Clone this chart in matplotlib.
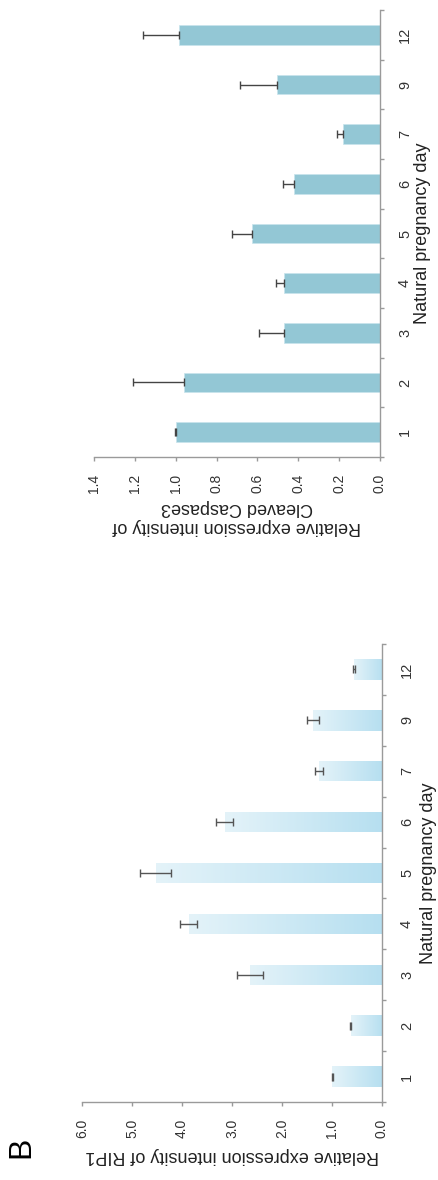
import matplotlib
matplotlib.use("Agg")
import matplotlib.pyplot as plt
import numpy as np

plt.rcParams["font.family"] = ["Liberation Sans", "DejaVu Sans"]

days = ["1", "2", "3", "4", "5", "6", "7", "9", "12"]

# Cleaved Caspase3 (panel drawn on top)
casp_mean = [1.00, 0.96, 0.47, 0.47, 0.625, 0.42, 0.18, 0.505, 0.985]
casp_err = [0.005, 0.25, 0.12, 0.037, 0.10, 0.057, 0.031, 0.18, 0.176]
casp_ticks = [0.0, 0.2, 0.4, 0.6, 0.8, 1.0, 1.2, 1.4]

# RIP1 (panel B, drawn below)
rip1_mean = [1.00, 0.63, 2.65, 3.87, 4.53, 3.15, 1.26, 1.39, 0.57]
rip1_err = [0.01, 0.015, 0.26, 0.17, 0.31, 0.17, 0.08, 0.12, 0.02]
rip1_ticks = [0.0, 1.0, 2.0, 3.0, 4.0, 5.0, 6.0]

W, H = 438, 1180
fig = plt.figure(figsize=(W / 100, H / 100), dpi=100)


def px_axes(left, right, top, bottom):
    return fig.add_axes([left / W, 1 - bottom / H, (right - left) / W, (bottom - top) / H])


def style_axes(ax, ticks, vmax, label, label_y, label_x):
    pos = np.arange(1, len(days) + 1)
    ax.set_xlim(vmax, 0)
    ax.set_ylim(0.5, len(days) + 0.5)
    for s in ["top", "left"]:
        ax.spines[s].set_visible(False)
    for s in ["bottom", "right"]:
        ax.spines[s].set_color("#9a9a9a")
        ax.spines[s].set_linewidth(1.0)
    ax.set_xticks(ticks)
    ax.set_xticklabels([f"{t:.1f}" for t in ticks], rotation=90, fontsize=10, color="#333333")
    ax.tick_params(axis="x", direction="out", length=3.2, width=1.0, color="#9a9a9a", pad=9)
    ax.yaxis.tick_right()
    ax.set_yticks(pos)
    ax.set_yticklabels(days, rotation=90, fontsize=10.5, color="#333333", va="center")
    ax.set_yticks(np.arange(0.5, len(days) + 1), minor=True)
    ax.tick_params(axis="y", which="major", length=0, pad=13)
    ax.tick_params(axis="y", which="minor", direction="out", length=3.2, width=1.0, color="#9a9a9a")
    ax.set_xlabel(label, fontsize=13, rotation=180, color="#222222", linespacing=1.1)
    ax.xaxis.set_label_coords(0.5, label_y)
    ax.xaxis.label.set_va("center")
    ax.set_ylabel("Natural pregnancy day", fontsize=13, rotation=90, color="#222222")
    ax.yaxis.set_label_position("right")
    ax.yaxis.set_label_coords(label_x, 0.5)
    ax.yaxis.label.set_va("center")


# top panel: solid bars, one-sided error bars
ax1 = px_axes(94, 380, 10, 457)
pos = np.arange(1, len(days) + 1)
ax1.barh(pos, casp_mean, height=0.4, color="#93c7d5", edgecolor="#c8e4ec", linewidth=0.5)
ax1.errorbar(casp_mean, pos, xerr=[np.zeros(len(days)), casp_err], fmt="none",
             ecolor="#444444", elinewidth=1.0, capsize=3, capthick=1.0)
style_axes(ax1, casp_ticks, 1.4, "Relative expression intensity of\nCleaved Caspase3", -0.134, 1.15)

# bottom panel: gradient bars, two-sided error bars
ax2 = px_axes(82, 382, 644, 1102)
bars = ax2.barh(pos, rip1_mean, height=0.4, color="none", edgecolor="none")
grad = np.linspace(0, 1, 256).reshape(1, -1)
cmap = matplotlib.colors.LinearSegmentedColormap.from_list("rip", ["#b6dff0", "#e4f3f9"])
for b, v in zip(bars, rip1_mean):
    y0 = b.get_y()
    im = ax2.imshow(grad, cmap=cmap, aspect="auto", extent=(0, v, y0, y0 + b.get_height()),
                    origin="lower", zorder=1)
    im.set_clip_path(b)
ax2.errorbar(rip1_mean, pos, xerr=rip1_err, fmt="none",
             ecolor="#555555", elinewidth=1.0, capsize=2.8, capthick=1.0, zorder=3)
style_axes(ax2, rip1_ticks, 6.0, "Relative expression intensity of RIP1", -0.116, 1.155)

fig.text(21 / W, 1 - 1147 / H, "B", fontsize=23, rotation=90, ha="center", va="center")

fig.savefig("out.png", dpi=100, facecolor="white")
